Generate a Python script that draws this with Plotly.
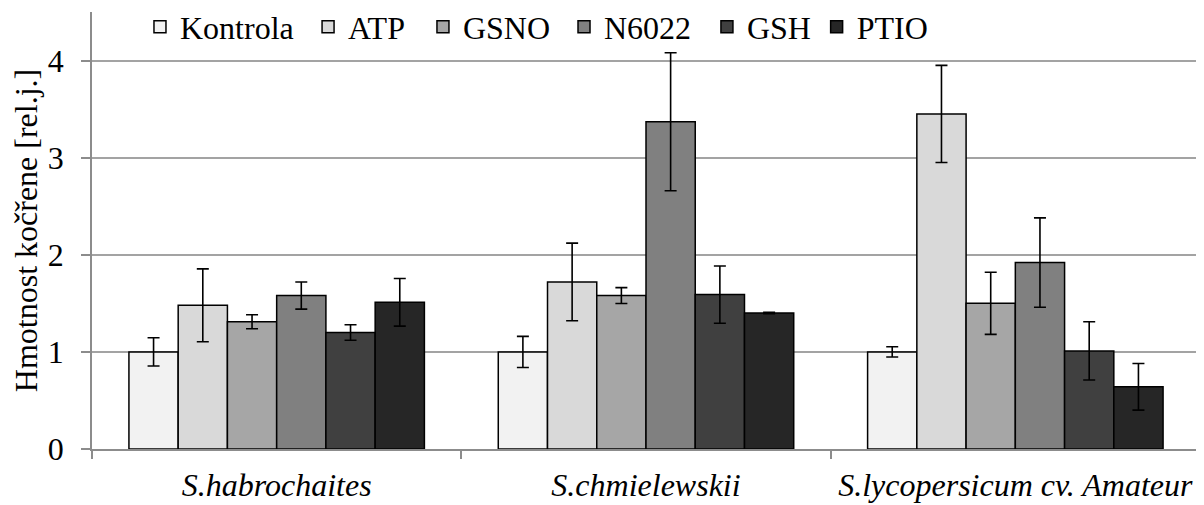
import plotly.graph_objects as go

categories = ["S.habrochaites", "S.chmielewskii", "S.lycopersicum cv. Amateur"]
series_names = ["Kontrola", "ATP", "GSNO", "N6022", "GSH", "PTIO"]
kontrola = [1.00, 1.00, 1.00]
atp = [1.48, 1.72, 3.45]
gsno = [1.31, 1.58, 1.50]
n6022 = [1.58, 3.37, 1.92]
gsh = [1.20, 1.59, 1.01]
ptio = [1.51, 1.40, 0.64]
kontrola_err = [0.145, 0.16, 0.053]
atp_err = [0.375, 0.40, 0.50]
gsno_err = [0.072, 0.082, 0.32]
n6022_err = [0.14, 0.71, 0.46]
gsh_err = [0.08, 0.295, 0.30]
ptio_err = [0.245, 0.008, 0.24]
colors = ["#f2f2f2", "#d9d9d9", "#a6a6a6", "#808080", "#404040", "#262626"]
y_ticks = [0, 1, 2, 3, 4]

values = [kontrola, atp, gsno, n6022, gsh, ptio]
errors = [kontrola_err, atp_err, gsno_err, n6022_err, gsh_err, ptio_err]

# horizontal anchor of each legend entry (paper fraction)
legend_x = [0.0433, 0.195, 0.2987, 0.426, 0.555, 0.654]

FONT = "Liberation Serif, Times New Roman, serif"
FS = 32

fig = go.Figure()
legend_layout = {}
for i, (name, vals, errs, col) in enumerate(zip(series_names, values, errors, colors)):
    key = "legend" if i == 0 else f"legend{i + 1}"
    fig.add_trace(go.Bar(
        name=name, x=categories, y=vals,
        marker=dict(color=col, line=dict(color="black", width=1.5)),
        error_y=dict(type="data", array=errs, visible=True,
                     color="black", thickness=1.6, width=6),
        legend=key,
    ))
    legend_layout[key] = dict(
        orientation="h", x=legend_x[i], y=0.966, xanchor="left", yanchor="middle",
        font=dict(family=FONT, size=FS, color="black"),
        bgcolor="rgba(0,0,0,0)", itemwidth=30,
    )

# page body has an 8px margin, so the figure is sized/offset to compensate
fig.update_layout(
    barmode="group", bargap=0.2, bargroupgap=0,
    width=1196, height=497,
    margin=dict(l=84, r=4, t=4, b=56, autoexpand=False),
    paper_bgcolor="white", plot_bgcolor="white",
    font=dict(family=FONT, size=FS, color="black"),
    showlegend=True,
    **legend_layout,
)
fig.update_xaxes(
    type="category", tickson="boundaries", ticks="outside", ticklen=8,
    tickcolor="#8c8c8c", tickwidth=1.5,
    showline=True, linecolor="#8c8c8c", linewidth=1.5,
    tickfont=dict(family=FONT, size=FS, color="black", style="italic"),
    ticklabelstandoff=7,
    showgrid=False,
)
fig.update_yaxes(
    range=[0, 4.5], tickvals=y_ticks, ticks="outside", ticklen=9,
    tickcolor="#8c8c8c", tickwidth=1.5,
    showline=True, linecolor="#8c8c8c", linewidth=1.5,
    showgrid=True, gridcolor="#a3a3a3", gridwidth=1.5,
    zeroline=False,
    tickfont=dict(family=FONT, size=FS, color="black"),
    ticklabelstandoff=11,
    title=dict(text="Hmotnost kočřene [rel.j.]", font=dict(family=FONT, size=FS, color="black"), standoff=15),
)

fig.write_html("out.html")
